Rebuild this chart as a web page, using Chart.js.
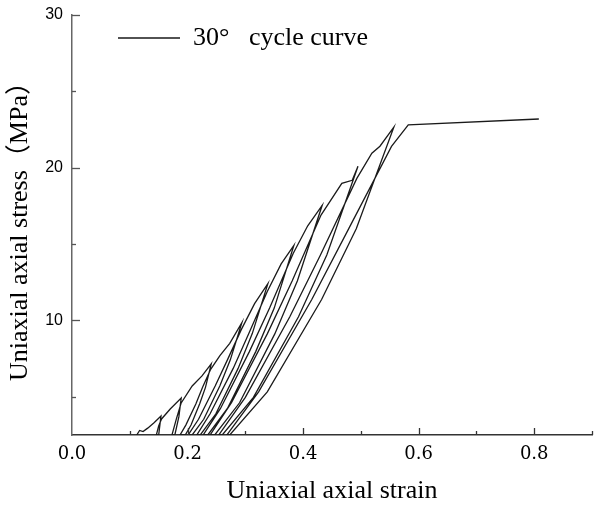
<!DOCTYPE html>
<html>
<head>
<meta charset="utf-8">
<script src="https://cdn.jsdelivr.net/npm/chart.js@4.4.1/dist/chart.umd.min.js"></script>
<style>
  html, body { margin: 0; padding: 0; background: #fff; }
  #wrap { width: 594px; height: 507px; }
</style>
</head>
<body>
<div id="wrap"><canvas id="chart" width="594" height="507"></canvas></div>
<script>
// cycle curve: envelope -> peak -> unload -> reload -> next peak
const strain = [
  0.112, 0.117, 0.123, 0.131, 0.142, 0.154,
  0.150, 0.146, 0.150, 0.155,
  0.170, 0.189,
  0.185, 0.178, 0.173, 0.181, 0.189,
  0.208, 0.225, 0.241,
  0.231, 0.221, 0.206, 0.196, 0.187, 0.197, 0.2145, 0.226, 0.240,
  0.256, 0.273, 0.294,
  0.274, 0.256, 0.228, 0.208, 0.201, 0.219, 0.248, 0.269, 0.293,
  0.316, 0.339,
  0.312, 0.2875, 0.249, 0.222, 0.216, 0.239, 0.279, 0.306, 0.338,
  0.362, 0.384,
  0.350, 0.318, 0.269, 0.235, 0.227, 0.257, 0.307, 0.342, 0.383,
  0.408, 0.433,
  0.390, 0.351, 0.290, 0.247, 0.239, 0.276, 0.338, 0.381, 0.431,
  0.467, 0.485, 0.495,
  0.441, 0.392, 0.314, 0.260, 0.254, 0.300, 0.377, 0.430, 0.493,
  0.519, 0.533, 0.557,
  0.492, 0.432, 0.338, 0.273, 0.268, 0.323, 0.415, 0.479, 0.553,
  0.582, 0.808
];
const stress = [
  2.5, 2.8, 2.72, 2.95, 3.3, 3.74,
  2.5, 2.5, 3.1, 3.55,
  4.2, 4.92,
  3.7, 2.5, 2.5, 3.6, 4.6,
  5.71, 6.37, 7.16,
  5.62, 4.55, 3.15, 2.5, 2.5, 3.15, 4.55, 5.62, 6.8,
  7.7, 8.5, 9.85,
  7.42, 5.73, 3.53, 2.5, 2.5, 3.53, 5.73, 7.42, 9.4,
  11.1, 12.41,
  9.14, 6.86, 3.89, 2.5, 2.5, 3.89, 6.86, 9.14, 11.9,
  13.7, 14.91,
  10.81, 7.96, 4.24, 2.5, 2.5, 4.24, 7.96, 10.81, 14.4,
  16.2, 17.54,
  12.58, 9.12, 4.61, 2.5, 2.5, 4.61, 9.12, 12.58, 16.9,
  18.98, 19.18, 20.10,
  14.29, 10.24, 4.96, 2.5, 2.5, 4.96, 10.24, 14.29, 19.3,
  20.95, 21.41, 22.66,
  16.01, 11.37, 5.32, 2.5, 2.5, 5.32, 11.37, 16.01, 21.4,
  22.8, 23.19
];

const xTickValues = [0.1, 0.2, 0.3, 0.4, 0.5, 0.6, 0.7, 0.8, 0.9];
const xLabelValues = [0.0, 0.2, 0.4, 0.6, 0.8];
const yTickValues = [5, 10, 15, 20, 25, 30];
const yLabelValues = [10, 20, 30];
const seriesLabel = "30°   cycle curve";

const serif = '"Liberation Serif", "Times New Roman", "Noto Sans CJK SC", serif';

// legend sits inside the plot; tick marks point inward like the original figure
const innerTicks = {
  id: "innerTicks",
  afterLayout(chart) {
    const lg = chart.legend;
    if (lg) {
      lg.left = chart.chartArea.left + 36;
      lg.right = chart.chartArea.right;
      lg.top = chart.chartArea.top;
      lg.bottom = chart.chartArea.bottom;
    }
  },
  afterDraw(chart) {
    const { ctx, scales: { x, y } } = chart;
    ctx.save();
    ctx.lineWidth = 1.3;
    ctx.strokeStyle = "#555";
    yTickValues.forEach(v => {
      const py = Math.round(y.getPixelForValue(v)) + 0.5;
      const len = yLabelValues.includes(v) ? 8 : 4;
      ctx.beginPath();
      ctx.moveTo(x.left, py);
      ctx.lineTo(x.left + len, py);
      ctx.stroke();
    });
    ctx.strokeStyle = "#333";
    xTickValues.forEach(v => {
      const px = Math.round(x.getPixelForValue(v)) + 0.5;
      const major = xLabelValues.some(l => Math.abs(l - v) < 1e-6);
      const len = major ? 7 : 4;
      ctx.beginPath();
      ctx.moveTo(px, y.bottom);
      ctx.lineTo(px, y.bottom - len);
      ctx.stroke();
    });
    ctx.restore();
  }
};

// fixed axis boxes, no extra overhang padding
function fixBox(scale, w, h) {
  if (w) scale.width = w;
  if (h) scale.height = h;
  scale.paddingLeft = 0;
  scale.paddingRight = 0;
  scale.paddingTop = 0;
  scale.paddingBottom = 0;
}

new Chart(document.getElementById("chart"), {
  type: "scatter",
  data: {
    datasets: [{
      label: seriesLabel,
      data: strain.map((s, i) => ({ x: s, y: stress[i] })),
      showLine: true,
      borderColor: "#1a1a1a",
      backgroundColor: "rgba(0,0,0,0)",
      borderWidth: 1.3,
      pointRadius: 0,
      tension: 0,
      fill: false
    }]
  },
  options: {
    responsive: false,
    animation: false,
    layout: { autoPadding: false, padding: { top: 15, right: 2, left: 0, bottom: 0 } },
    plugins: {
      tooltip: { enabled: false },
      legend: {
        position: "chartArea",
        align: "start",
        labels: {
          boxWidth: 62,
          boxHeight: 0,
          padding: 10,
          color: "#000",
          font: { family: serif, size: 26 }
        }
      }
    },
    scales: {
      x: {
        type: "linear",
        min: 0,
        max: 0.9,
        afterBuildTicks: (scale) => {
          scale.ticks = [0].concat(xTickValues).map(v => ({ value: v }));
        },
        afterFit: (scale) => fixBox(scale, 0, 72),
        grid: { display: false, drawTicks: false },
        border: { display: true, color: "#333", width: 1.5 },
        ticks: {
          autoSkip: false,
          maxRotation: 0,
          padding: 9,
          color: "#000",
          font: { family: '"DejaVu Serif", serif', size: 18 },
          callback: (v) => xLabelValues.some(l => Math.abs(l - v) < 1e-6) ? v.toFixed(1) : ""
        },
        title: {
          display: true,
          text: "Uniaxial axial strain",
          color: "#000",
          font: { family: serif, size: 26 },
          padding: { top: 0, bottom: 0 }
        }
      },
      y: {
        type: "linear",
        min: 2.5,
        max: 30,
        afterBuildTicks: (scale) => {
          scale.ticks = yTickValues.map(v => ({ value: v }));
        },
        afterFit: (scale) => fixBox(scale, 72, 0),
        grid: { display: false, drawTicks: false },
        border: { display: true, color: "#666", width: 1.5 },
        ticks: {
          autoSkip: false,
          padding: 9,
          color: "#000",
          font: { family: '"Liberation Sans", Arial, sans-serif', size: 16 },
          callback: (v) => yLabelValues.includes(v) ? String(v) : ""
        },
        title: {
          display: true,
          text: "Uniaxial axial stress（MPa）",
          color: "#000",
          font: { family: serif, size: 26 },
          padding: { top: 5, bottom: 0 }
        }
      }
    }
  },
  plugins: [innerTicks]
});
</script>
</body>
</html>
